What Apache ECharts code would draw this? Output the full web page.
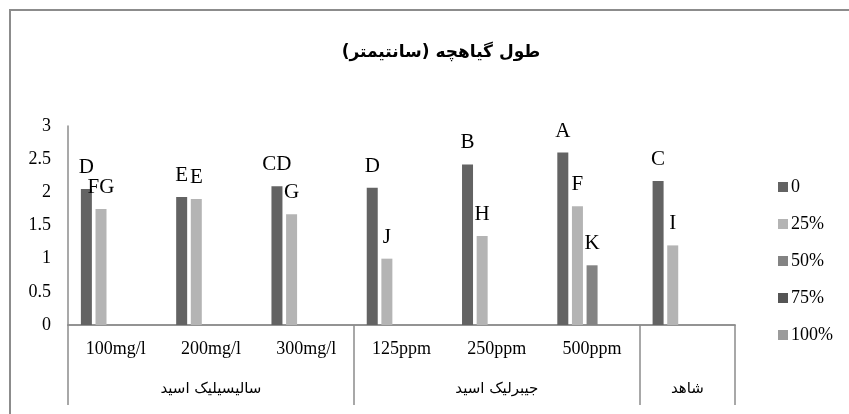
<!DOCTYPE html>
<html>
<head>
<meta charset="utf-8">
<script src="https://cdn.jsdelivr.net/npm/echarts@6/dist/echarts.min.js"></script>
<style>html,body{margin:0;padding:0;background:#fff;}#c{width:849px;height:414px;}</style>
</head>
<body>
<div id="c"></div>
<script>
const titleText = 'طول گیاهچه (سانتیمتر)';
const categories = ['100mg/l', '200mg/l', '300mg/l', '125ppm', '250ppm', '500ppm', ''];
const groupNames = ['سالیسیلیک اسید', 'جیبرلیک اسید', 'شاهد'];
const groupCenters = [1.5, 4.5, 6.5];
const groupBounds = [0, 3, 6, 7];
const seriesNames = ['0', '25%', '50%', '75%', '100%'];
const values0 = [2.05, 1.93, 2.09, 2.07, 2.42, 2.60, 2.17];
const values25 = [1.75, 1.90, 1.67, 1.00, 1.34, 1.79, 1.20];
const values50 = [null, null, null, null, null, 0.90, null];
const values75 = [null, null, null, null, null, null, null];
const values100 = [null, null, null, null, null, null, null];
const letters0 = ['D', 'E', 'CD', 'D', 'B', 'A', 'C'];
const letters25 = ['FG', 'E', 'G', 'J', 'H', 'F', 'I'];
const letters50 = ['', '', '', '', '', 'K', ''];
const letters75 = ['', '', '', '', '', '', ''];
const letters100 = ['', '', '', '', '', '', ''];

const colors = ['#636363', '#b4b4b4', '#838383', '#555555', '#9b9b9b'];
const allValues = [values0, values25, values50, values75, values100];
const allLetters = [letters0, letters25, letters50, letters75, letters100];
const serif = "'Liberation Serif', 'DejaVu Sans', serif";
const axisGray = '#8c8c8c';

const chart = echarts.init(document.getElementById('c'), null, {renderer: 'canvas'});
chart.setOption({
  animation: false,
  backgroundColor: '#fff',
  title: {
    text: titleText,
    left: 436, top: 39, textAlign: 'center',
    textStyle: {fontFamily: "'DejaVu Sans', sans-serif", fontSize: 17, fontWeight: 'bold', color: '#000'}
  },
  graphic: [{
    type: 'rect', silent: true,
    shape: {x: 10, y: 10, width: 1200, height: 1200},
    style: {fill: 'none', stroke: axisGray, lineWidth: 2}
  }],
  legend: {
    orient: 'vertical', left: 773, top: 173,
    itemWidth: 10, itemHeight: 10, itemGap: 19,
    icon: 'rect',
    data: seriesNames,
    textStyle: {fontFamily: serif, fontSize: 18, color: '#000', padding: [0, 0, 0, -2]}
  },
  grid: {left: 68, right: 114, top: 126, bottom: 89, containLabel: false},
  xAxis: [{
    type: 'category',
    data: categories,
    axisLine: {show: true, lineStyle: {color: axisGray, width: 1.5}},
    axisTick: {show: false},
    axisLabel: {interval: 0, margin: 15, fontFamily: serif, fontSize: 18, color: '#000'}
  }, {
    type: 'value', position: 'bottom', min: 0, max: 7,
    axisLine: {show: true, lineStyle: {color: axisGray, width: 1.5}},
    axisTick: {show: true, customValues: groupBounds, length: 80, lineStyle: {color: axisGray, width: 1.5}},
    axisLabel: {
      customValues: groupCenters, margin: 57,
      fontFamily: "'DejaVu Sans', sans-serif", fontSize: 15, color: '#000',
      formatter: function (v) { const i = groupCenters.indexOf(v); return i >= 0 ? groupNames[i] : ''; }
    },
    splitLine: {show: false}
  }],
  yAxis: {
    type: 'value', min: 0, max: 3, interval: 0.5,
    axisLine: {show: true, lineStyle: {color: axisGray, width: 1.5}},
    axisTick: {show: false},
    splitLine: {show: false},
    axisLabel: {margin: 17, fontFamily: serif, fontSize: 18, color: '#000',
      formatter: function (v) { return String(v); }}
  },
  series: seriesNames.map(function (name, si) {
    return {
      name: name, type: 'bar', xAxisIndex: 0,
      data: allValues[si],
      barWidth: 11, barGap: '33%',
      itemStyle: {color: colors[si]},
      label: {
        show: true, position: 'top', distance: 11,
        fontFamily: serif, fontSize: 21, color: '#000',
        formatter: function (p) { return allLetters[si][p.dataIndex] || ''; }
      }
    };
  })
});
</script>
</body>
</html>
